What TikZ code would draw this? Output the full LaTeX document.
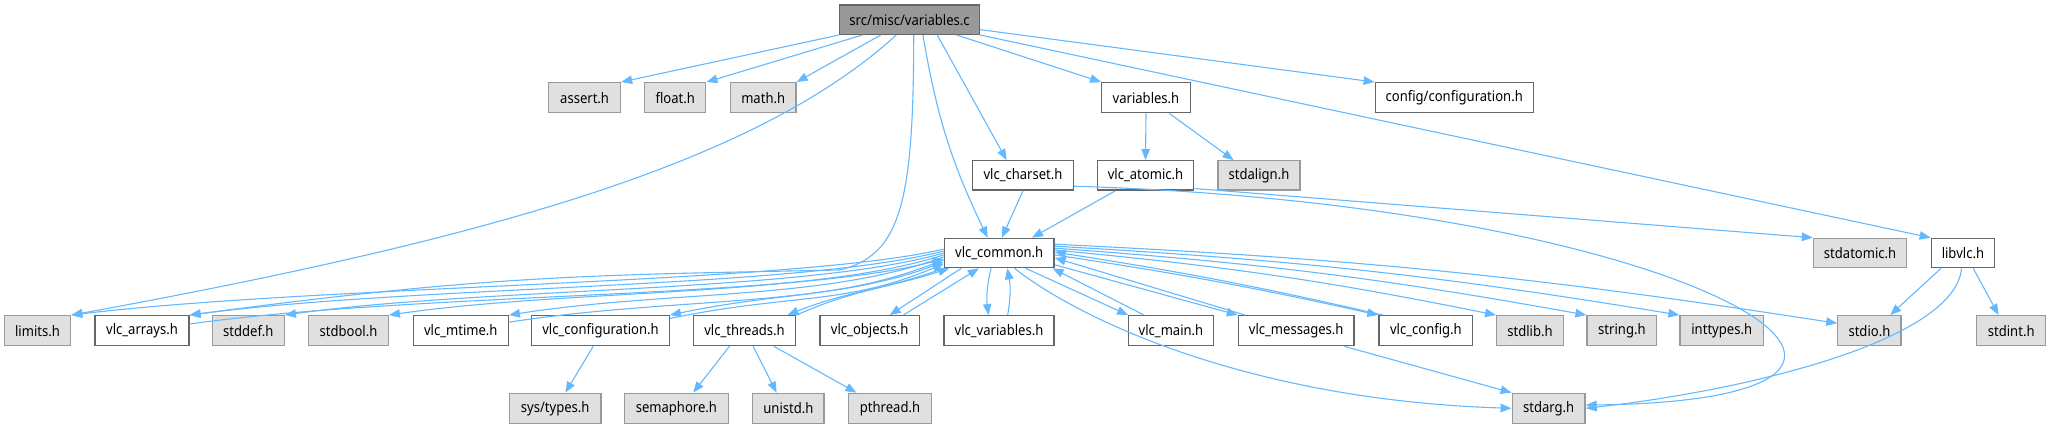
\documentclass[tikz,border=0pt]{standalone}
\usepackage{fontspec}
\setmainfont{Noto Sans}[FakeStretch=0.9]
\usetikzlibrary{arrows.meta}

\definecolor{edgeblue}{HTML}{63B8FF}
\definecolor{sysfill}{HTML}{E0E0E0}
\definecolor{sysline}{HTML}{999999}
\definecolor{rootfill}{HTML}{999999}
\definecolor{boxline}{HTML}{666666}

\tikzset{
  hfile/.style={draw=boxline, fill=white, line width=1.3pt, minimum height=30pt,
    inner sep=0pt, font=\fontsize{14.5}{16}\selectfont},
  sysfile/.style={hfile, draw=sysline, fill=sysfill},
  rootfile/.style={hfile, fill=rootfill},
  inc/.style={draw=edgeblue, line width=1.1pt, -{Triangle[length=11pt,width=8.5pt]}},
}

\begin{document}
\begin{tikzpicture}[x=1pt,y=1pt]
  \useasboundingbox (0,0) rectangle (2051,-429);
  % source file
  \node[rootfile, minimum width=139.8pt, minimum height=29.3pt] (src) at (909.6,-19.7) {src/misc/variables.c};
  % first level
  \node[sysfile, minimum width=71.8pt] (assert) at (584.6,-97.7) {assert.h};
  \node[sysfile, minimum width=61.2pt] (float) at (675.2,-97.7) {float.h};
  \node[sysfile, minimum width=65.6pt] (math) at (763.2,-97.7) {math.h};
  \node[hfile, minimum width=88.4pt] (varh) at (1146,-97.7) {variables.h};
  \node[hfile, minimum width=158pt] (cfgh) at (1454.2,-97.7) {config/configuration.h};
  % second level
  \node[hfile, minimum width=100.4pt, minimum height=29.3pt] (charset) at (1023,-175.4) {vlc\_charset.h};
  \node[hfile, minimum width=96.5pt, minimum height=29.3pt] (atomic) at (1145.5,-175.4) {vlc\_atomic.h};
  \node[sysfile, minimum width=82.1pt, minimum height=29.3pt] (stdalign) at (1259,-175.4) {stdalign.h};
  % third level
  \node[hfile, minimum width=109.7pt, minimum height=29.3pt] (common) at (999.2,-253) {vlc\_common.h};
  \node[sysfile, minimum width=93.4pt, minimum height=29.3pt] (stdatomic) at (1860.1,-253) {stdatomic.h};
  \node[hfile, minimum width=63.3pt, minimum height=29.3pt] (libvlc) at (1962.9,-253) {libvlc.h};
  % fourth level
  \node[sysfile, minimum width=66.4pt] (limits) at (37.5,-330.7) {limits.h};
  \node[hfile, minimum width=94pt] (arrays) at (142,-330.7) {vlc\_arrays.h};
  \node[sysfile, minimum width=72pt] (stddef) at (248.3,-330.7) {stddef.h};
  \node[sysfile, minimum width=79.6pt] (stdbool) at (348.5,-330.7) {stdbool.h};
  \node[hfile, minimum width=95pt] (mtime) at (460.8,-330.7) {vlc\_mtime.h};
  \node[hfile, minimum width=137.6pt] (configuration) at (600.5,-330.7) {vlc\_configuration.h};
  \node[hfile, minimum width=102.4pt] (threads) at (744.5,-330.7) {vlc\_threads.h};
  \node[hfile, minimum width=99.3pt] (objects) at (869.7,-330.7) {vlc\_objects.h};
  \node[hfile, minimum width=110pt] (variables) at (999,-330.7) {vlc\_variables.h};
  \node[hfile, minimum width=84.6pt] (main) at (1171,-330.7) {vlc\_main.h};
  \node[hfile, minimum width=115.7pt] (messages) at (1296.2,-330.7) {vlc\_messages.h};
  \node[hfile, minimum width=93.7pt] (config) at (1425.9,-330.7) {vlc\_config.h};
  \node[sysfile, minimum width=66.6pt] (stdlib) at (1530,-330.7) {stdlib.h};
  \node[sysfile, minimum width=69.7pt] (string) at (1621.9,-330.7) {string.h};
  \node[sysfile, minimum width=83.3pt] (inttypes) at (1721.7,-330.7) {inttypes.h};
  \node[sysfile, minimum width=63.2pt] (stdio) at (1869.4,-330.7) {stdio.h};
  \node[sysfile, minimum width=69pt] (stdint) at (2011.2,-330.7) {stdint.h};
  % fifth level
  \node[sysfile, minimum width=91.5pt] (systypes) at (555.2,-408.3) {sys/types.h};
  \node[sysfile, minimum width=103.5pt] (semaphore) at (676.4,-408.3) {semaphore.h};
  \node[sysfile, minimum width=71.4pt] (unistd) at (788.4,-408.3) {unistd.h};
  \node[sysfile, minimum width=82.6pt] (pthread) at (890,-408.3) {pthread.h};
  \node[sysfile, minimum width=72.8pt] (stdarg) at (1548.6,-408.3) {stdarg.h};

  % includes of the source file
  \draw[inc] (src.south west) -- (assert.north east);
  \draw[inc] (src.198) -- (float.north east);
  \draw[inc] (src.208) -- (math.north east);
  \draw[inc] (src.229) .. controls +(-137,-125) and +(428,78) .. (limits.north east);
  \draw[inc] (src.285) .. controls +(0,-170) and +(60,15) .. (840,-270)
    .. controls +(-250,-5) and +(300,40) .. (arrays.north east);
  \draw[inc] (src.311) to[bend right=8] (common.127);
  \draw[inc] (src.331) -- (charset.137);
  \draw[inc] (src.342) -- (varh.north west);
  \draw[inc] (src.south east) -- (libvlc.north west);
  \draw[inc] (src.352) -- (cfgh.north west);
  % variables.h, vlc_charset.h, vlc_atomic.h
  \draw[inc] (varh.south) -- (atomic.north);
  \draw[inc] (varh.326) -- (stdalign.149);
  \draw[inc] (charset.south) -- (common.80);
  \draw[inc] (charset.348) .. controls (1700,-205) and (2010,-400) .. (stdarg.5);
  \draw[inc] (atomic.207) -- (common.25);
  \draw[inc] (atomic.345) -- (stdatomic.north west);
  % vlc_common.h, left side
  \draw[inc] (common.176) .. controls +(-150,-35) and +(250,30) .. (limits.north east);
  \draw[inc] (common.178) .. controls +(-150,-38) and +(230,30) .. (arrays.north east);
  \draw[inc] (arrays.8) .. controls +(230,32) and +(-150,-40) .. (common.186);
  \draw[inc] (common.180) .. controls +(-140,-40) and +(200,28) .. (stddef.north east);
  \draw[inc] (common.182) .. controls +(-130,-42) and +(180,26) .. (stdbool.north east);
  \draw[inc] (common.184) .. controls +(-120,-44) and +(160,25) .. (mtime.north east);
  \draw[inc] (mtime.10) .. controls +(160,25) and +(-120,-46) .. (common.189);
  \draw[inc] (common.187) .. controls +(-100,-40) and +(120,25) .. (configuration.north east);
  \draw[inc] (configuration.10) .. controls +(120,25) and +(-100,-42) .. (common.191);
  \draw[inc] (common.south west) to[out=200,in=22] (threads.20);
  \draw[inc] (threads.north east) to[out=24,in=198] (common.197);
  \draw[inc] (common.202) -- (objects.38);
  \draw[inc] (objects.25) -- (common.217);
  \draw[inc] (common.242) to[bend right=10] (variables.124);
  \draw[inc] (variables.61) to[bend right=10] (common.298);
  % vlc_common.h, right side
  \draw[inc] (common.330) -- (main.north west);
  \draw[inc] (main.150) -- (common.344);
  \draw[inc] (common.348) -- (messages.north west);
  \draw[inc] (messages.163) -- (common.355);
  \draw[inc] (common.358) to[bend left=2] (config.north west);
  \draw[inc] (config.160) to[bend right=2] (common.1);
  \draw[inc] (common.3) to[bend left=3] (stdlib.north west);
  \draw[inc] (common.5) to[bend left=3] (string.north west);
  \draw[inc] (common.7) to[bend left=3] (inttypes.north west);
  \draw[inc] (common.9) to[bend left=3] (stdio.167);
  \draw[inc] (common.315) .. controls (1080,-320) and (1250,-400) .. (stdarg.west);
  \draw[inc] (messages.342) -- (stdarg.north west);
  % libvlc.h
  \draw[inc] (libvlc.215) -- (stdio.37);
  \draw[inc] (libvlc.304) -- (stdint.129);
  \draw[inc] (libvlc.265) .. controls (1955,-340) and (1750,-390) .. (stdarg.east);
  % lower level
  \draw[inc] (configuration.245) -- (systypes.57);
  \draw[inc] (threads.226) -- (semaphore.43);
  \draw[inc] (threads.299) -- (unistd.127);
  \draw[inc] (threads.332) -- (pthread.155);
\end{tikzpicture}
\end{document}
